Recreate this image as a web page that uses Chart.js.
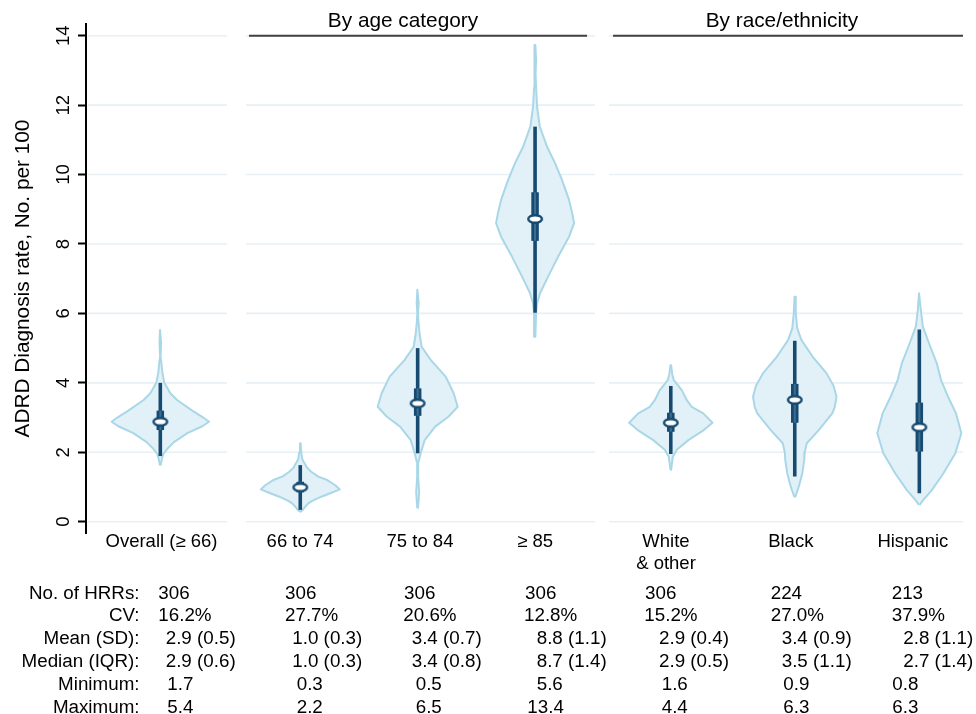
<!DOCTYPE html>
<html><head><meta charset="utf-8">
<script src="https://cdn.jsdelivr.net/npm/chart.js@4.4.0/dist/chart.umd.min.js"></script>
<style>
html,body{margin:0;padding:0;background:#fff;}
#wrap{position:relative;width:976px;height:714px;overflow:hidden;background:#fff;}
#c{position:absolute;left:0;top:0;width:976px;height:714px;}
.t{position:absolute;font-family:'Liberation Sans',Arial,Helvetica,sans-serif;font-size:18.8px;line-height:22.8px;color:#000;white-space:pre;}
</style></head><body>
<div id="wrap"><canvas id="c" width="976" height="714"></canvas><div id="tbl"></div></div>
<script>
// ---------------- DATA ----------------
const categories = ['Overall (≥ 66)', '66 to 74', '75 to 84', '≥ 85', ['White', '& other'], 'Black', 'Hispanic'];
const groupTitles = ['By age category', 'By race/ethnicity'];
const yTicks = [0, 2, 4, 6, 8, 10, 12, 14];
const yTitle = 'ADRD Diagnosis rate, No. per 100';

// box-plot summaries
const whiskerLow  = [1.89, 0.34, 1.97, 6.02, 1.95, 1.30, 0.82];
const whiskerHigh = [4.00, 1.63, 5.00, 11.38, 3.91, 5.21, 5.54];
const q1          = [2.64, 0.85, 3.05, 8.09, 2.59, 2.85, 2.02];
const q3          = [3.20, 1.15, 3.84, 9.49, 3.14, 3.97, 3.43];
const medians     = [2.88, 0.99, 3.41, 8.72, 2.85, 3.51, 2.72];

// violin density profiles (value, half-width reading)
const overallY = [5.52, 5.15, 4.75, 4.6, 4.3, 4.0, 3.7, 3.5, 3.2, 3.0, 2.88, 2.75, 2.55, 2.3, 2.1, 1.95, 1.8, 1.62];
const overallW = [0.3, 0.8, 0.2, 1, 2, 4, 10, 17, 32, 43, 48.7, 42, 27, 14, 7, 3, 1.5, 0.3];
const age66Y = [2.26, 2.0, 1.8, 1.7, 1.55, 1.44, 1.3, 1.2, 1.05, 0.93, 0.82, 0.72, 0.6, 0.53, 0.4, 0.34, 0.29];
const age66W = [0.3, 1, 2, 4, 7, 11, 18, 27, 35, 39.5, 30, 21, 12, 8, 4, 2.5, 0.3];
const age75Y = [6.68, 6.3, 6.0, 5.76, 5.4, 5.04, 4.66, 4.18, 3.7, 3.31, 3.03, 2.74, 2.35, 1.97, 1.68, 1.3, 0.84, 0.38];
const age75W = [0.3, 1, 0.3, 0.8, 2, 4, 13, 28, 36, 40, 31, 17.5, 7, 3, 0.5, 0.5, 1.5, 0.3];
const age85Y = [13.73, 13.3, 12.9, 12.5, 11.96, 11.38, 10.8, 10.33, 9.84, 9.27, 8.9, 8.6, 8.21, 7.63, 7.06, 6.58, 6.29, 6.0, 5.33];
const age85W = [0.3, 1, 0.5, 1, 2, 4.7, 12, 20, 27, 34, 37, 39, 34, 23, 13, 5, 2, 1, 0.3];
const whiteY = [4.51, 4.25, 4.08, 3.79, 3.5, 3.31, 3.12, 2.85, 2.64, 2.35, 2.07, 1.87, 1.49];
const whiteW = [0.3, 1.5, 3, 11, 16, 21, 32.5, 41.7, 33, 17.5, 6, 2, 0.3];
const blackY = [6.48, 6.0, 5.57, 5.23, 4.75, 4.28, 3.9, 3.6, 3.3, 3.12, 2.64, 2.26, 2.0, 1.78, 1.39, 1.01, 0.72];
const blackW = [0.3, 1, 2.5, 6.7, 18, 31.7, 39, 41.7, 40, 37.5, 24, 12, 10, 9.5, 7.5, 4, 0.5];
const hispY = [6.58, 6.1, 5.62, 5.04, 4.56, 4.08, 3.6, 3.12, 2.55, 1.97, 1.39, 0.91, 0.63, 0.48];
const hispW = [0.3, 1.5, 3.5, 11, 17.5, 21.7, 28.7, 36.7, 42, 36, 24, 12.5, 4, 0.3];

// summary table
const rowLabels = ['No. of HRRs:', 'CV:', 'Mean (SD):', 'Median (IQR):', 'Minimum:', 'Maximum:'];
const nHRR   = [306, 306, 306, 306, 306, 224, 213];
const cvPct  = [16.2, 27.7, 20.6, 12.8, 15.2, 27.0, 37.9];
const meanV  = [2.9, 1.0, 3.4, 8.8, 2.9, 3.4, 2.8];
const sdV    = [0.5, 0.3, 0.7, 1.1, 0.4, 0.9, 1.1];
const medianV= [2.9, 1.0, 3.4, 8.7, 2.9, 3.5, 2.7];
const iqrV   = [0.6, 0.3, 0.8, 1.4, 0.5, 1.1, 1.4];
const minV   = [1.7, 0.3, 0.5, 5.6, 1.6, 0.9, 0.8];
const maxV   = [5.4, 2.2, 6.5, 13.4, 4.4, 6.3, 6.3];

// ---------------- LAYOUT / STYLE ----------------
const xCenter = [0.633, 1.825, 2.825, 3.825, 4.981, 6.037, 7.098];
const xLabelPos = [0.643, 1.823, 2.845, 3.825, 4.940, 6.003, 7.043];
const panels = [[0.017, 1.201], [1.363, 4.336], [4.455, 7.470]];
const headerSpans = [[1.388, 4.268], [4.489, 7.470]];
const headerTextX = [2.700, 5.928];
const widthScale = 1 / 117.4;
const FONT = "'Liberation Sans', Arial, Helvetica, sans-serif";
const darkBlue = '#174a70';
const innerBlue = '#3a6f93';
const violinFill = '#e2f1f7';
const violinLine = '#a9d7e7';
const gridColor = '#e7f0f4';
const cellX = [
  [159.3, 286, 405, 526, 646, 771.7, 892.7],
  [159.3, 286, 404.3, 525, 645.3, 771.7, 892.7],
  [166.7, 293.3, 412.7, 537.7, 660, 782.7, 904.3],
  [166.7, 293.3, 412.7, 537.7, 660, 782.7, 904.3],
  [168.3, 297.7, 416.7, 537.7, 662.7, 784.3, 893.3],
  [168.3, 297.7, 416.7, 528.3, 662.7, 784.3, 893.3]
];

Chart.defaults.font.family = FONT;
Chart.defaults.color = '#000';

const profiles = [[overallY, overallW], [age66Y, age66W], [age75Y, age75W], [age85Y, age85W],
                  [whiteY, whiteW], [blackY, blackW], [hispY, hispW]];

// median marker: white ellipse
const marker = document.createElement('canvas');
marker.width = 18; marker.height = 12;
(function () {
  const g = marker.getContext('2d');
  g.beginPath(); g.ellipse(9, 6, 6.8, 3.8, 0, 0, Math.PI * 2);
  g.fillStyle = '#fff'; g.fill();
  g.lineWidth = 2.4; g.strokeStyle = darkBlue; g.stroke();
})();

const datasets = [];
profiles.forEach(([Y, W], i) => {
  const c = xCenter[i];
  const left = [], right = [];
  for (let j = Y.length - 1; j >= 0; j--) left.push({x: c - W[j] * widthScale, y: Y[j]});
  for (let j = 0; j < Y.length; j++) right.push({x: c + W[j] * widthScale, y: Y[j]});
  const ring = left.concat(right);
  let k = 0, r = 0;
  ring.forEach((p, idx) => { if (p.x < ring[k].x) k = idx; if (p.x > ring[r].x) r = idx; });
  const fillPts = ring.slice(k).concat(ring.slice(0, k + 1)).concat([ring[r]]);
  datasets.push({data: fillPts, fill: 'shape', backgroundColor: violinFill, borderColor: 'rgba(0,0,0,0)',
                 borderWidth: 0, pointRadius: 0, order: 10});
  datasets.push({data: ring.concat([ring[0]]), fill: false, borderColor: violinLine, borderWidth: 2,
                 borderJoinStyle: 'round', pointRadius: 0, order: 9});
  datasets.push({data: [{x: c, y: whiskerLow[i]}, {x: c, y: whiskerHigh[i]}], fill: false,
                 borderColor: darkBlue, borderWidth: 3.6, borderCapStyle: 'butt', pointRadius: 0, order: 3});
  datasets.push({data: [{x: c, y: q1[i]}, {x: c, y: q3[i]}], fill: false,
                 borderColor: darkBlue, borderWidth: 7.5, borderCapStyle: 'butt', pointRadius: 0, order: 2});
  datasets.push({data: [{x: c, y: q1[i]}, {x: c, y: q3[i]}], fill: false,
                 borderColor: innerBlue, borderWidth: 2, borderCapStyle: 'butt', pointRadius: 0, order: 1});
  datasets.push({data: [{x: c, y: medians[i]}], showLine: false, pointStyle: marker,
                 pointRadius: 8, order: 0});
});

const panelGrid = {
  id: 'panelGrid',
  beforeDatasetsDraw(chart) {
    const {ctx, scales: {x, y}} = chart;
    ctx.save();
    ctx.strokeStyle = gridColor; ctx.lineWidth = 1.6;
    yTicks.forEach(v => {
      const py = y.getPixelForValue(v);
      panels.forEach(([a, b]) => {
        ctx.beginPath();
        ctx.moveTo(x.getPixelForValue(a), py);
        ctx.lineTo(x.getPixelForValue(b), py);
        ctx.stroke();
      });
    });
    ctx.restore();
  }
};

const groupHeaders = {
  id: 'groupHeaders',
  afterDatasetsDraw(chart) {
    const {ctx, scales: {x, y}} = chart;
    const py = y.getPixelForValue(yTicks[yTicks.length - 1]);
    ctx.save();
    ctx.strokeStyle = '#404040'; ctx.lineWidth = 2;
    headerSpans.forEach(([a, b]) => {
      ctx.beginPath(); ctx.moveTo(x.getPixelForValue(a), py); ctx.lineTo(x.getPixelForValue(b), py); ctx.stroke();
    });
    ctx.fillStyle = '#000'; ctx.font = '20.8px ' + FONT;
    ctx.textAlign = 'center'; ctx.textBaseline = 'alphabetic';
    groupTitles.forEach((t, i) => ctx.fillText(t, x.getPixelForValue(headerTextX[i]), py - 9));
    ctx.restore();
  }
};

new Chart(document.getElementById('c'), {
  type: 'line',
  data: {datasets},
  options: {
    responsive: false, animation: false, events: [],
    layout: {padding: {top: 24, right: 13, left: 0, bottom: 0}},
    plugins: {legend: {display: false}, tooltip: {enabled: false}},
    scales: {
      x: {
        type: 'linear', min: 0, max: 7.47,
        afterBuildTicks: s => { s.ticks = xLabelPos.map(v => ({value: v})); },
        afterFit: s => { s.height = 181; },
        ticks: {autoSkip: false, maxRotation: 0, minRotation: 0, padding: -2,
                font: {size: 18.5, lineHeight: 1.17}, color: '#000',
                callback: (v, i) => categories[i]},
        grid: {display: false, drawTicks: false},
        border: {display: false}
      },
      y: {
        type: 'linear', min: -0.3255, max: 14.337,
        afterBuildTicks: s => { s.ticks = yTicks.map(v => ({value: v})); },
        afterFit: s => { s.width = 86; },
        ticks: {autoSkip: false, minRotation: 90, maxRotation: 90, crossAlign: 'center', padding: 4,
                font: {size: 18.5}, color: '#000', callback: v => String(v)},
        grid: {drawOnChartArea: false, drawTicks: true, tickLength: 8, tickColor: '#000', tickWidth: 2},
        border: {display: true, color: '#000', width: 2},
        title: {display: true, text: yTitle, font: {size: 20.8}, color: '#000', padding: {top: 10.5, bottom: 0}}
      }
    }
  },
  plugins: [panelGrid, groupHeaders]
});

// summary table as text
const tableRows = [
  nHRR.map(v => String(v)),
  cvPct.map(v => v.toFixed(1) + '%'),
  meanV.map((v, i) => v.toFixed(1) + ' (' + sdV[i].toFixed(1) + ')'),
  medianV.map((v, i) => v.toFixed(1) + ' (' + iqrV[i].toFixed(1) + ')'),
  minV.map(v => v.toFixed(1)),
  maxV.map(v => v.toFixed(1))
];
const tbl = document.getElementById('tbl');
const tableTop = 581.6, rowH = 22.8, labelRight = 139.5;
rowLabels.forEach((lab, r) => {
  const d = document.createElement('div');
  d.className = 't'; d.textContent = lab;
  d.style.top = (tableTop + r * rowH) + 'px'; d.style.left = '0px';
  d.style.width = labelRight + 'px'; d.style.textAlign = 'right';
  tbl.appendChild(d);
  tableRows[r].forEach((txt, c) => {
    const e = document.createElement('div');
    e.className = 't'; e.textContent = txt;
    e.style.top = (tableTop + r * rowH) + 'px';
    e.style.left = (cellX[r][c] - 1) + 'px';
    tbl.appendChild(e);
  });
});
</script>
</body></html>
